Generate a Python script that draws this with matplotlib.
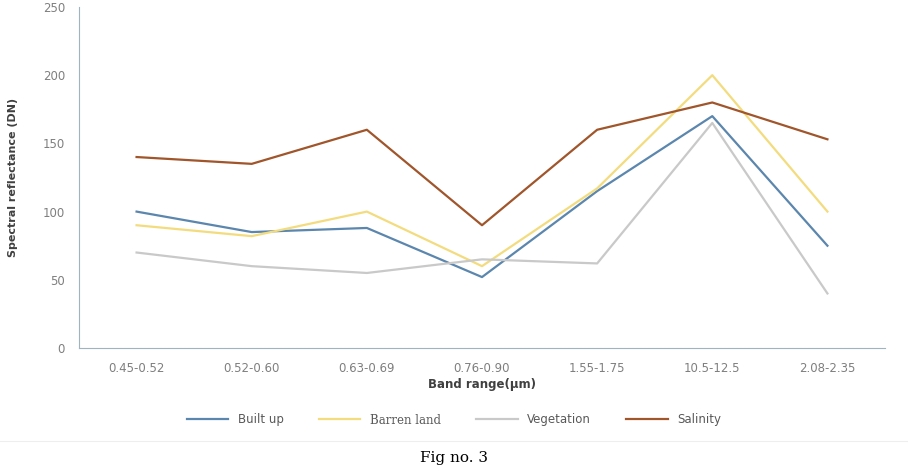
import matplotlib.pyplot as plt

bands = ["0.45-0.52", "0.52-0.60", "0.63-0.69", "0.76-0.90", "1.55-1.75", "10.5-12.5", "2.08-2.35"]
built_up = [100, 85, 88, 52, 115, 170, 75]
barren_land = [90, 82, 100, 60, 117, 200, 100]
vegetation = [70, 60, 55, 65, 62, 165, 40]
salinity = [140, 135, 160, 90, 160, 180, 153]

fig = plt.figure(figsize=(9.08, 4.70), dpi=100)
ax = fig.add_axes([79 / 908, 1 - 348 / 470, 806 / 908, 341 / 470])

x = range(len(bands))
ax.plot(x, built_up, color="#5b86ad", lw=1.6, label="Built up")
ax.plot(x, barren_land, color="#f3dc7e", lw=1.6, label="Barren land")
ax.plot(x, vegetation, color="#c9c9c9", lw=1.6, label="Vegetation")
ax.plot(x, salinity, color="#a0552b", lw=1.6, label="Salinity")

ax.set_xlim(-0.5, len(bands) - 0.5)
ax.set_ylim(0, 250)
ax.set_yticks([0, 50, 100, 150, 200, 250])
ax.set_xticks(list(x))
ax.set_xticklabels(bands)
ax.tick_params(colors="#7f7f7f", labelsize=8.5, length=0, pad=10)
for s in ["top", "right"]:
    ax.spines[s].set_visible(False)
for s in ["left", "bottom"]:
    ax.spines[s].set_color("#9fb4bf")
ax.set_ylabel("Spectral reflectance (DN)", fontsize=8, fontweight="bold", color="#404040", labelpad=18)
ax.set_xlabel("Band range(µm)", fontsize=8.5, fontweight="bold", color="#404040", labelpad=2)

leg = fig.legend(loc="center", bbox_to_anchor=(0.5, 420 / 470 * 0 + 1 - 420 / 470), ncol=4,
                 frameon=False, fontsize=8.5, handlelength=3.5, columnspacing=3)
for t in leg.get_texts():
    t.set_color("#595959")
leg.get_texts()[1].set_family("serif")

fig.add_artist(plt.Line2D([0, 1], [1 - 441 / 470] * 2, color="#eeeeee", lw=0.8))
fig.text(0.5, 1 - 458 / 470, "Fig no. 3", ha="center", va="center", fontsize=11, family="serif")

plt.savefig("out.png", dpi=100)
